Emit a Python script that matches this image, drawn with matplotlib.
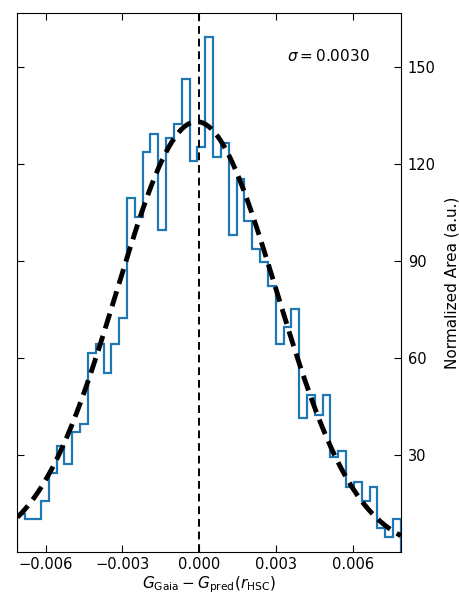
import numpy as np
import matplotlib
matplotlib.use("Agg")
import matplotlib.pyplot as plt
from matplotlib.ticker import FuncFormatter

# Histogram range (data min / max) and bin count
x_min = -0.00710
x_max = 0.00788
n_bins = 49

# Normalized histogram heights (left to right)
heights = [11.7, 10.2, 10.2, 15.9, 24.3, 32.9, 27.3, 37.2, 39.6, 61.5,
           64.2, 55.2, 64.2, 72.4, 109.3, 103.6, 123.5, 129.2, 99.5, 127.9,
           132.3, 146.2, 120.8, 125.1, 159.1, 122.2, 126.3, 98.0, 115.3, 102.3,
           93.6, 89.5, 82.3, 64.2, 69.6, 75.1, 41.3, 48.5, 42.4, 48.5,
           29.5, 31.3, 20.0, 21.6, 15.9, 20.0, 7.3, 4.6, 10.2]

# Gaussian fit parameters
g_amp = 133.0
g_mu = -0.0001
g_sigma = 0.00312
sigma_label = r'$\sigma = 0.0030$'

x_ticks = [-0.006, -0.003, 0.000, 0.003, 0.006]
y_ticks = [30, 60, 90, 120, 150]

fig = plt.figure(figsize=(4.59, 5.94), dpi=100)
ax = fig.add_axes([0.038, 0.0707, 0.8355, 0.907])

edges = np.linspace(x_min, x_max, n_bins + 1)
ax.stairs(heights, edges, baseline=0, fill=False, color='#1f77b4', lw=1.6)

xx = np.linspace(x_min, x_max, 400)
yy = g_amp * np.exp(-0.5 * ((xx - g_mu) / g_sigma) ** 2)
ax.plot(xx, yy, color='black', lw=3.5, ls=(0, (3.2, 1.6)))

ax.axvline(0.0, color='black', lw=1.4, ls=(0, (4, 2.5)))

ax.set_xlim(x_min, x_max)
ax.set_ylim(0, 166.5)
ax.set_xticks(x_ticks)
ax.set_yticks(y_ticks)
ax.xaxis.set_major_formatter(FuncFormatter(lambda v, p: ('%.3f' % v).replace('-', '\u2212')))
ax.yaxis.tick_right()
ax.yaxis.set_label_position('right')
ax.tick_params(axis='both', which='both', direction='in', top=True, bottom=True,
               left=True, right=True, length=5, labelsize=10.5)
ax.tick_params(axis='y', pad=5)
ax.set_ylabel('Normalized Area (a.u.)', fontsize=11, labelpad=6)
ax.set_xlabel(r'$G_{\rm Gaia} - G_{\rm pred}(r_{\rm HSC})$', fontsize=11, labelpad=2)

ax.text(0.81, 0.92, sigma_label, transform=ax.transAxes, ha='center', va='center',
        fontsize=11)

fig.savefig('out.png', dpi=100)
